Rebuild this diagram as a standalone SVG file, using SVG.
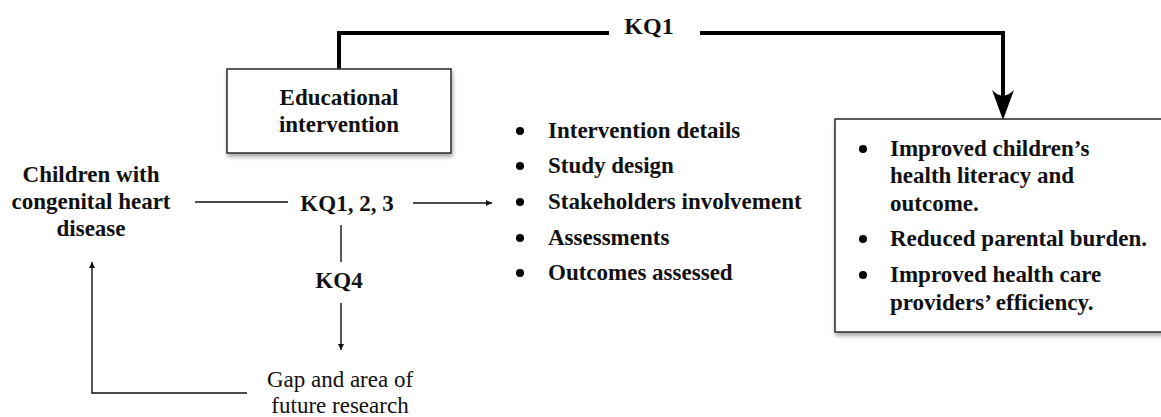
<svg xmlns="http://www.w3.org/2000/svg" width="1161" height="417" viewBox="0 0 1161 417">
  <defs>
    <style>
      .b { font-family: "Liberation Serif", "Times New Roman", serif; font-weight: bold; font-size: 23px; fill: #111; }
      .r { font-family: "Liberation Serif", "Times New Roman", serif; font-size: 23px; fill: #111; }
      .box { fill: #fff; stroke: #333; stroke-width: 1.6; }
      .thin { fill: none; stroke: #111; stroke-width: 1.4; }
      .thick { fill: none; stroke: #000; stroke-width: 4; }
    </style>
    <filter id="sh" x="-10%" y="-10%" width="120%" height="130%">
      <feDropShadow dx="1" dy="3" stdDeviation="2" flood-color="#000" flood-opacity="0.35"/>
    </filter>
    <marker id="ah" viewBox="0 0 10 10" refX="10" refY="5" markerWidth="6" markerHeight="6" markerUnits="userSpaceOnUse" orient="auto">
      <path d="M0,0 L10,5 L0,10 Z" fill="#111"/>
    </marker>
  </defs>
  <rect width="1161" height="417" fill="#fff"/>

  <g id="connectors">
    <path class="thick" d="M339,69 V33 H609"/>
    <path class="thick" d="M700,33 H1003 V108"/>
    <path d="M1003,120 L992,90 Q1003,101 1014,90 Z" fill="#000"/>
    <path class="thin" d="M195,202 H288"/>
    <path class="thin" d="M413,203 H492" marker-end="url(#ah)"/>
    <path class="thin" d="M341,225 V262"/>
    <path class="thin" d="M341,303 V350" marker-end="url(#ah)"/>
    <path class="thin" d="M247,393 H92 V262" marker-end="url(#ah)"/>
  </g>

  <g id="kq1-label">
    <text class="b" x="649" y="34" text-anchor="middle" style="font-size:24px">KQ1</text>
  </g>

  <g id="educational-intervention">
    <rect class="box" x="227" y="69" width="224" height="84" filter="url(#sh)"/>
    <text class="b" x="339" y="105" text-anchor="middle">Educational</text>
    <text class="b" x="339" y="132" text-anchor="middle">intervention</text>
  </g>

  <g id="children">
    <text class="b" x="91" y="182" text-anchor="middle">Children with</text>
    <text class="b" x="91" y="209" text-anchor="middle">congenital heart</text>
    <text class="b" x="91" y="236" text-anchor="middle">disease</text>
  </g>

  <g id="kq123">
    <text class="b" x="347" y="211" text-anchor="middle">KQ1, 2, 3</text>
  </g>

  <g id="kq4">
    <text class="b" x="339" y="288" text-anchor="middle">KQ4</text>
  </g>

  <g id="gap">
    <text class="r" x="340" y="387" text-anchor="middle">Gap and area of</text>
    <text class="r" x="340" y="413" text-anchor="middle">future research</text>
  </g>

  <g id="aspects">
    <circle cx="520" cy="131" r="4"/>
    <text class="b" x="548" y="138">Intervention details</text>
    <circle cx="520" cy="166" r="4"/>
    <text class="b" x="548" y="173">Study design</text>
    <circle cx="520" cy="202" r="4"/>
    <text class="b" x="548" y="209">Stakeholders involvement</text>
    <circle cx="520" cy="238" r="4"/>
    <text class="b" x="548" y="245">Assessments</text>
    <circle cx="520" cy="273" r="4"/>
    <text class="b" x="548" y="280">Outcomes assessed</text>
  </g>

  <g id="outcomes">
    <rect class="box" x="835" y="119" width="330" height="213" filter="url(#sh)"/>
    <circle cx="863" cy="149" r="4"/>
    <text class="b" x="890" y="156">Improved children’s</text>
    <text class="b" x="890" y="183">health literacy and</text>
    <text class="b" x="890" y="211">outcome.</text>
    <circle cx="863" cy="239" r="4"/>
    <text class="b" x="890" y="246">Reduced parental burden.</text>
    <circle cx="863" cy="275" r="4"/>
    <text class="b" x="890" y="282">Improved health care</text>
    <text class="b" x="890" y="310">providers’ efficiency.</text>
  </g>
</svg>
